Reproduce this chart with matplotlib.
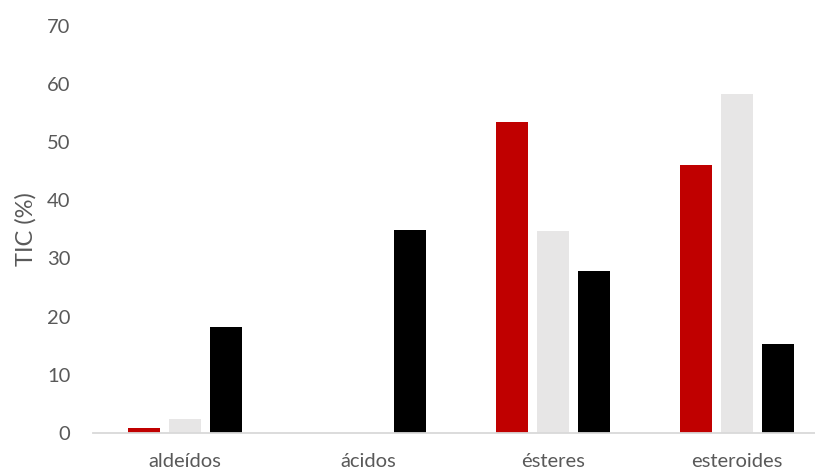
import numpy as np
import matplotlib
matplotlib.use("Agg")
import matplotlib.pyplot as plt

categories = ["aldeídos", "ácidos", "ésteres", "esteroides"]
serie_roja = [0.8, 0.0, 53.4, 46.0]
serie_gris = [2.4, 0.0, 34.7, 58.3]
serie_negra = [18.2, 34.9, 27.8, 15.2]
yticks = [0, 10, 20, 30, 40, 50, 60, 70]

plt.rcParams["font.family"] = ["Lato", "DejaVu Sans"]
text_color = "#595959"
fs = 14.5

fig = plt.figure(figsize=(8.15, 4.72), dpi=100)
# plot area runs slightly past the right edge of the figure
ax = fig.add_axes([92.7 / 815, 39.3 / 472, 736 / 815, 406.7 / 472])

x = np.arange(len(categories))
w = 0.174
off = 0.223
ax.bar(x - off, serie_roja, width=w, color="#C00000")
ax.bar(x, serie_gris, width=w, color="#E7E6E6")
ax.bar(x + off, serie_negra, width=w, color="#000000")

ax.set_xlim(-0.5, len(categories) - 0.5)
ax.set_ylim(0, 70)
ax.set_yticks(yticks)
ax.set_yticklabels([str(t) for t in yticks])
ax.set_xticks(x)
ax.set_xticklabels(categories)

for s in ["top", "right", "left"]:
    ax.spines[s].set_visible(False)
ax.spines["bottom"].set_color("#D9D9D9")
ax.spines["bottom"].set_linewidth(1.3)

ax.tick_params(axis="y", length=0, pad=16, labelsize=fs, labelcolor=text_color)
ax.tick_params(axis="x", length=0, pad=14.5, labelsize=fs, labelcolor=text_color)

ax.set_ylabel("TIC (%)", fontsize=17, color=text_color)
ax.yaxis.set_label_coords(-(92.7 - 37) / 736, 0.5)

fig.savefig("out.png", dpi=100)
